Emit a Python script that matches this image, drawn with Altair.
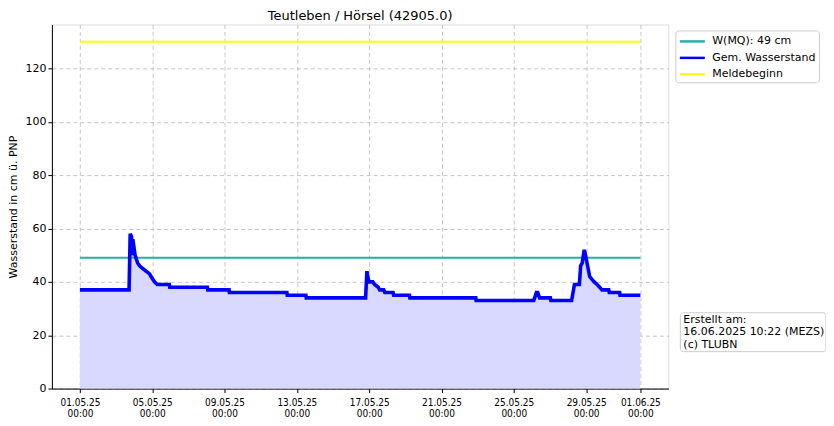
import altair as alt
import pandas as pd

# --- data ---
times = [
    "2025-05-01T00:00Z", "2025-05-03T17:15Z", "2025-05-03T18:45Z", "2025-05-03T20:30Z",
    "2025-05-03T21:00Z", "2025-05-03T22:15Z", "2025-05-04T01:15Z", "2025-05-04T04:45Z",
    "2025-05-04T07:15Z", "2025-05-04T11:30Z", "2025-05-04T15:45Z", "2025-05-04T20:30Z",
    "2025-05-04T22:30Z", "2025-05-05T00:45Z", "2025-05-05T03:00Z", "2025-05-05T06:30Z",
    "2025-05-05T22:45Z", "2025-05-05T23:15Z", "2025-05-08T01:15Z", "2025-05-08T01:45Z",
    "2025-05-09T06:00Z", "2025-05-09T06:30Z", "2025-05-12T10:45Z", "2025-05-12T11:15Z",
    "2025-05-13T12:00Z", "2025-05-13T12:30Z", "2025-05-16T19:15Z", "2025-05-16T21:00Z",
    "2025-05-16T22:45Z", "2025-05-17T00:00Z", "2025-05-17T04:45Z", "2025-05-17T07:15Z",
    "2025-05-17T12:00Z", "2025-05-17T14:00Z", "2025-05-17T19:15Z", "2025-05-17T20:45Z",
    "2025-05-18T07:45Z", "2025-05-18T08:30Z", "2025-05-19T05:30Z", "2025-05-19T06:00Z",
    "2025-05-22T21:30Z", "2025-05-22T22:00Z", "2025-05-26T02:30Z", "2025-05-26T06:00Z",
    "2025-05-26T07:45Z", "2025-05-26T10:15Z", "2025-05-27T00:30Z", "2025-05-27T01:15Z",
    "2025-05-28T04:45Z", "2025-05-28T08:30Z", "2025-05-28T15:00Z", "2025-05-28T16:45Z",
    "2025-05-28T18:45Z", "2025-05-28T21:30Z", "2025-05-28T23:15Z", "2025-05-29T01:15Z",
    "2025-05-29T04:45Z", "2025-05-29T07:30Z", "2025-05-29T10:45Z", "2025-05-29T14:30Z",
    "2025-05-29T18:00Z", "2025-05-29T21:00Z", "2025-05-30T06:00Z", "2025-05-30T06:45Z",
    "2025-05-30T20:30Z", "2025-05-30T21:00Z", "2025-06-01T00:00Z",
]
levels = [
    37, 37, 58, 57,
    50, 56, 50, 47,
    46, 45, 44, 43,
    42, 41, 40, 39,
    39, 38, 38, 37,
    37, 36, 36, 35,
    35, 34, 34, 44,
    41, 40, 40, 39,
    38, 37, 37, 36,
    36, 35, 35, 34,
    34, 33, 33, 36,
    36, 34, 34, 33,
    33, 39, 39, 46,
    47, 52, 50, 47,
    42, 41, 40, 39,
    38, 37, 37, 36,
    36, 35, 35,
]
ref_times = ["2025-05-01T00:00Z", "2025-06-01T00:00Z"]
mq_value = 49
melde_value = 130
series_names = ["W(MQ): 49 cm", "Gem. Wasserstand", "Meldebeginn"]
series_colors = ["#20b2aa", "#0000ff", "#ffff00"]
y_ticks = [0, 20, 40, 60, 80, 100, 120]
title_text = "Teutleben / Hörsel (42905.0)"
y_title = "Wasserstand in cm ü. PNP"
note_text = "Erstellt am:\n16.06.2025 10:22 (MEZS)\n(c) TLUBN"

wl = pd.DataFrame({"t": times, "v": levels, "s": series_names[1]})
refs = pd.DataFrame({
    "t": ref_times + ref_times,
    "v": [mq_value, mq_value, melde_value, melde_value],
    "s": [series_names[0]] * 2 + [series_names[2]] * 2,
})

tick_dates = [alt.DateTime(year=2025, month=5, date=d, utc=True) for d in [1, 5, 9, 13, 17, 21, 25, 29]]
tick_dates.append(alt.DateTime(year=2025, month=6, date=1, utc=True))

x_scale = alt.Scale(
    type="utc",
    domain=[alt.DateTime(year=2025, month=4, date=29, hours=10, minutes=48, utc=True),
            alt.DateTime(year=2025, month=6, date=2, hours=13, minutes=12, utc=True)],
    nice=False,
)
y_scale = alt.Scale(domain=[0, 136.5], nice=False, zero=False)

x_enc = alt.X("t:T", scale=x_scale, title=None, axis=alt.Axis(
    values=tick_dates,
    labelExpr="[utcFormat(datum.value, '%d.%m.%y'), utcFormat(datum.value, '%H:%M')]",
    labelFont="DejaVu Sans Condensed, Liberation Sans Narrow, DejaVu Sans",
    labelFontSize=10, labelColor="black",
    labelLineHeight=11.5, labelPadding=5,
    tickSize=4, tickColor="black", domainColor="black",
    gridColor="#b8b8b8", gridDash=[4, 3], gridWidth=0.8,
))
y_enc = alt.Y("v:Q", scale=y_scale, title=y_title, axis=alt.Axis(
    values=y_ticks, labelFont="DejaVu Sans", labelFontSize=11, labelColor="black",
    tickSize=4, tickColor="black", domainColor="black",
    titleFont="DejaVu Sans", titleFontSize=11, titleFontWeight="normal", titleColor="black",
    titlePadding=6,
    gridColor="#b8b8b8", gridDash=[4, 3], gridWidth=0.8,
))

color_enc = alt.Color("s:N", scale=alt.Scale(domain=series_names, range=series_colors),
                      legend=alt.Legend(
                          title=None, orient="none", legendX=625, legendY=6,
                          symbolType="M-1,0H2.85", symbolSize=169, symbolStrokeWidth=2.5,
                          labelFont="DejaVu Sans", labelFontSize=11, labelColor="black",
                          rowPadding=3.5, padding=3, labelOffset=18,
                          strokeColor="#cccccc", fillColor="white", cornerRadius=3,
                      ))

area = alt.Chart(wl).mark_area(color="#d9d9ff", opacity=1).encode(x=x_enc, y=y_enc)
reflines = alt.Chart(refs).mark_line(strokeWidth=2).encode(x=x_enc, y=y_enc, color=color_enc, detail="s:N")
wline = alt.Chart(wl).mark_line(strokeWidth=3.6).encode(x=x_enc, y=y_enc, color=color_enc)

note_df = pd.DataFrame({"txt": [note_text]})
note_box = alt.Chart(note_df).mark_rect(
    fill="white", stroke="#cccccc", strokeWidth=1, cornerRadius=3
).encode(x=alt.value(630), x2=alt.value(776), y=alt.value(289), y2=alt.value(328))
note = alt.Chart(note_df).mark_text(
    align="left", baseline="top", lineBreak="\n", font="DejaVu Sans", fontSize=11,
    color="black", lineHeight=12.5,
).encode(x=alt.value(633), y=alt.value(290), text="txt:N")

chart = alt.layer(area, reflines, wline, note_box, note).properties(
    width=618, height=365,
    title=alt.TitleParams(title_text, font="DejaVu Sans", fontSize=13, fontWeight="normal",
                          color="black", anchor="middle", offset=1),
    autosize=alt.AutoSizeParams(type="none"),
    padding={"left": 44, "top": 16, "right": 158, "bottom": 30},
).configure_view(stroke="black", strokeWidth=1).configure(background="white")

chart.save("out.html", embed_options={"renderer": "svg", "actions": False})
